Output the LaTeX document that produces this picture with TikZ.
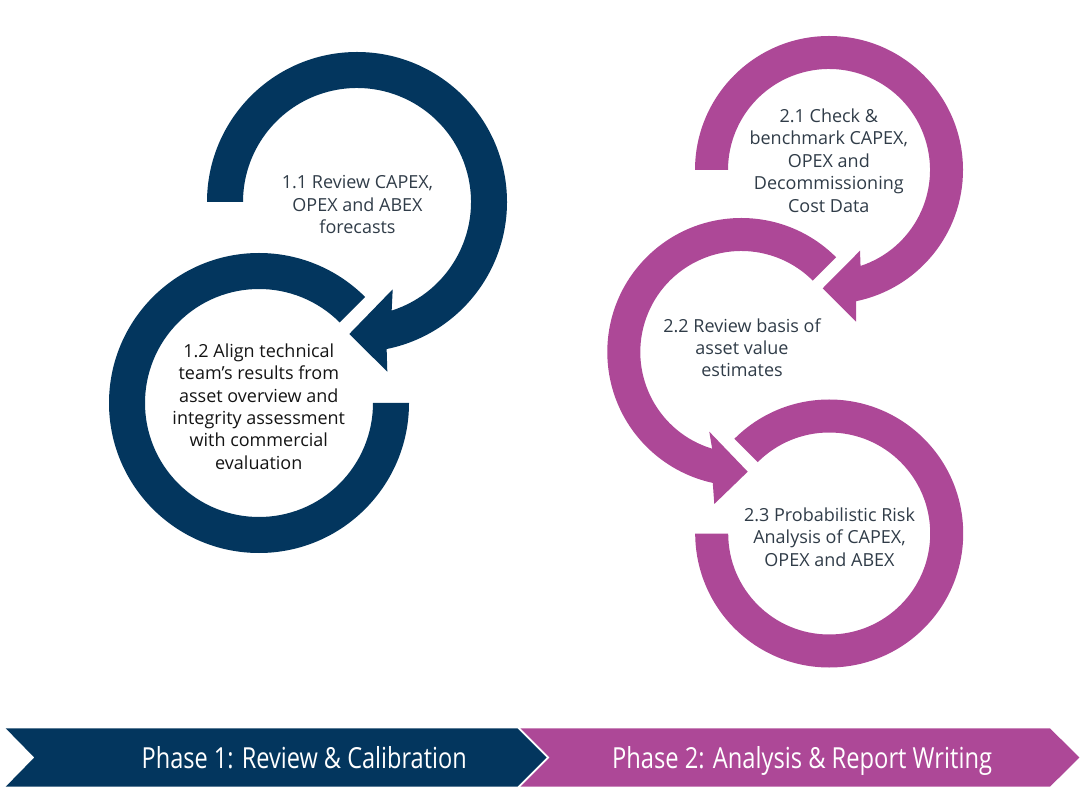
\documentclass[tikz,border=0pt]{standalone}
\usepackage{fontspec}
\setmainfont{Open Sans}
\usetikzlibrary{calc}
\definecolor{navy}{RGB}{3,54,94}
\definecolor{plum}{RGB}{173,72,151}
\definecolor{slate}{RGB}{48,60,72}
\definecolor{ink}{RGB}{20,20,20}
\begin{document}
\begin{tikzpicture}[x=1pt,y=1pt,
  lbl/.style={align=center,inner sep=0pt,font=\fontsize{18}{22.4}\selectfont,text=slate},
  phase/.style={inner sep=0pt,text=white,anchor=base}]
\useasboundingbox (0,0) rectangle (1083,790);
% ---- Phase 1 rings
\coordinate (c1) at (357,588);
\coordinate (c2) at (259,387);
\fill[navy] ($(c1)+(180:150pt)$) arc[start angle=180,end angle=-78.6,radius=150pt]
  -- (387.3,418.3) -- (349.3,456) -- (392.7,500.7)
  -- ($(c1)+(-72.3:114pt)$) arc[start angle=-72.3,end angle=180,radius=114pt] -- cycle;
\fill[navy] ($(c2)+(0:150pt)$) arc[start angle=0,end angle=-315,radius=150pt]
  -- ($(c2)+(45:114pt)$) arc[start angle=45,end angle=360,radius=114pt] -- cycle;
% ---- Phase 2 rings
\coordinate (c3) at (829,620);
\coordinate (c4) at (741.3,438);
\coordinate (c5) at (829.2,256.5);
\fill[plum] ($(c3)+(180:134pt)$) arc[start angle=180,end angle=-78.3,radius=134pt]
  -- (856,468.3) -- (822.7,501.7) -- (860,539.3)
  -- ($(c3)+(-71.8:101pt)$) arc[start angle=-71.8,end angle=180,radius=101pt] -- cycle;
\fill[plum] ($(c4)+(45:134pt)$) arc[start angle=45,end angle=257.7,radius=134pt]
  -- (714.3,286) -- (747.7,318.3) -- (709.3,358.3)
  -- ($(c4)+(253.2:101pt)$) arc[start angle=253.2,end angle=45,radius=101pt] -- cycle;
\fill[plum] ($(c5)+(135:134pt)$) arc[start angle=135,end angle=-180,radius=134pt]
  -- ($(c5)+(180:101pt)$) arc[start angle=-180,end angle=135,radius=101pt] -- cycle;
% ---- labels
\node[lbl] (t11) at (357.5,585.5) {1.1 Review CAPEX,\\OPEX and ABEX\\forecasts};
\node[lbl,text=ink] (t12) at (258.8,383.5) {1.2 Align technical\\team’s results from\\asset overview and\\integrity assessment\\with commercial\\evaluation};
\node[lbl] (t21) at (828.8,629.5) {2.1 Check \&\\benchmark CAPEX,\\OPEX and\\Decommissioning\\Cost Data};
\node[lbl] (t22) at (742,442.2) {2.2 Review basis of\\asset value\\estimates};
\node[lbl] (t23) at (829.5,252.8) {2.3 Probabilistic Risk\\Analysis of CAPEX,\\OPEX and ABEX};
% ---- phase chevrons
\fill[plum] (520.3,61.7) -- (1050,61.7) -- (1079.3,32.5) -- (1050,3.3) -- (520.3,3.3) -- (549.5,32.5) -- cycle;
\fill[navy] (5.7,61.7) -- (517.3,61.7) -- (546.5,32.5) -- (517.3,3.3) -- (5.7,3.3) -- (34.3,32.5) -- cycle;
\node[phase] (p1) at (304.2,21.7) {\resizebox{325pt}{\height}{\fontsize{29}{34}\selectfont Phase 1: Review \& Calibration}};
\node[phase] (p2) at (802,21.7) {\resizebox{380pt}{\height}{\fontsize{29}{34}\selectfont Phase 2: Analysis \& Report Writing}};
\end{tikzpicture}
\end{document}
